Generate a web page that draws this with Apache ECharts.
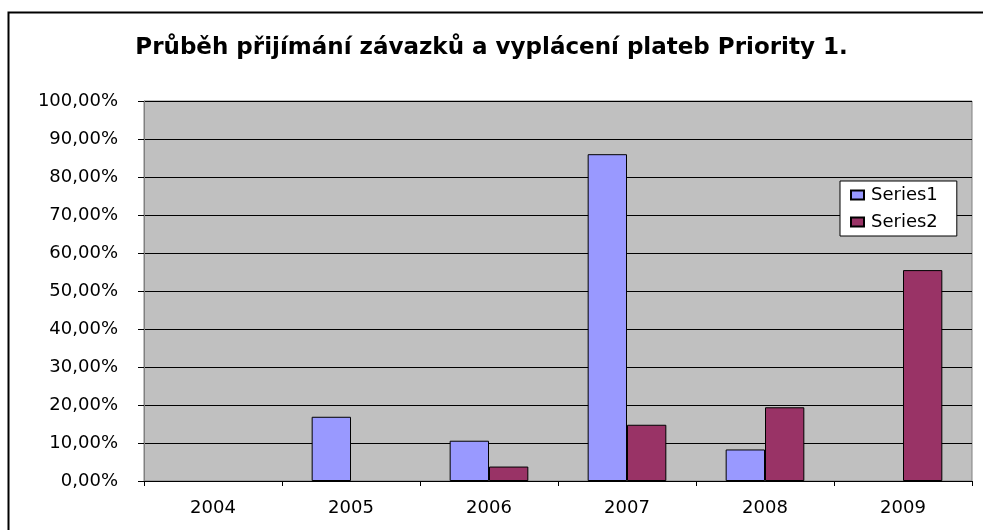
<!DOCTYPE html>
<html>
<head>
<meta charset="utf-8">
<script src="https://cdn.jsdelivr.net/npm/echarts@6/dist/echarts.min.js"></script>
<style>
html,body{margin:0;padding:0;background:#fff;}
#main{width:983px;height:530px;}
</style>
</head>
<body>
<div id="main"></div>
<script>
const categories = ['2004', '2005', '2006', '2007', '2008', '2009'];
const series1 = [0, 16.9, 10.6, 86.0, 8.3, 0];
const series2 = [0, 0, 3.8, 14.8, 19.4, 55.5];
const seriesNames = ['Series1', 'Series2'];
const titleText = 'Průběh přijímání závazků a vyplácení plateb Priority 1.';

const FONT = 'DejaVu Sans';
const hideZero = arr => arr.map(v => (v === 0 ? '-' : v));
const chart = echarts.init(document.getElementById('main'));
chart.setOption({
  backgroundColor: '#ffffff',
  animation: false,
  title: {
    text: titleText,
    left: 'center',
    top: 32,
    textStyle: { fontFamily: FONT, fontWeight: 'bold', fontSize: 23, color: '#000' }
  },
  graphic: [{
    type: 'rect',
    shape: { x: 8.5, y: 12.5, width: 1000, height: 600 },
    style: { fill: 'none', stroke: '#000', lineWidth: 2 },
    silent: true
  }],
  legend: {
    orient: 'vertical',
    left: 840,
    top: 181,
    padding: [5, 19, 5, 10],
    itemGap: 9,
    itemWidth: 13,
    itemHeight: 9,
    icon: 'rect',
    backgroundColor: '#ffffff',
    borderColor: '#000',
    borderWidth: 1,
    textStyle: { fontFamily: FONT, fontSize: 18, color: '#000', padding: [0, 0, 0, 2] },
    data: seriesNames
  },
  grid: {
    left: 144, right: 11, top: 101, bottom: 49,
    show: true,
    backgroundColor: '#C0C0C0',
    borderColor: '#808080',
    borderWidth: 1
  },
  xAxis: {
    type: 'category',
    data: categories,
    axisLine: { lineStyle: { color: '#000', width: 1 } },
    axisTick: { show: true, alignWithLabel: false, length: 5, lineStyle: { color: '#000' } },
    axisLabel: { fontFamily: FONT, fontSize: 18, color: '#000', margin: 18 }
  },
  yAxis: {
    type: 'value',
    min: 0, max: 100, interval: 10,
    axisLine: { show: true, lineStyle: { color: '#808080', width: 1 } },
    axisTick: { show: true, length: 6, inside: false, lineStyle: { color: '#000' } },
    axisLabel: {
      fontFamily: FONT, fontSize: 18, color: '#000', margin: 26,
      formatter: v => v.toFixed(2).replace('.', ',') + '%'
    },
    splitLine: { show: true, lineStyle: { color: '#000', width: 1 } }
  },
  series: [
    {
      name: seriesNames[0], type: 'bar', data: hideZero(series1),
      barGap: '0%', barCategoryGap: '43%',
      itemStyle: { color: '#9999FF', borderColor: '#000', borderWidth: 1 }
    },
    {
      name: seriesNames[1], type: 'bar', data: hideZero(series2),
      barGap: '0%', barCategoryGap: '43%',
      itemStyle: { color: '#993366', borderColor: '#000', borderWidth: 1 }
    }
  ]
});
</script>
</body>
</html>
